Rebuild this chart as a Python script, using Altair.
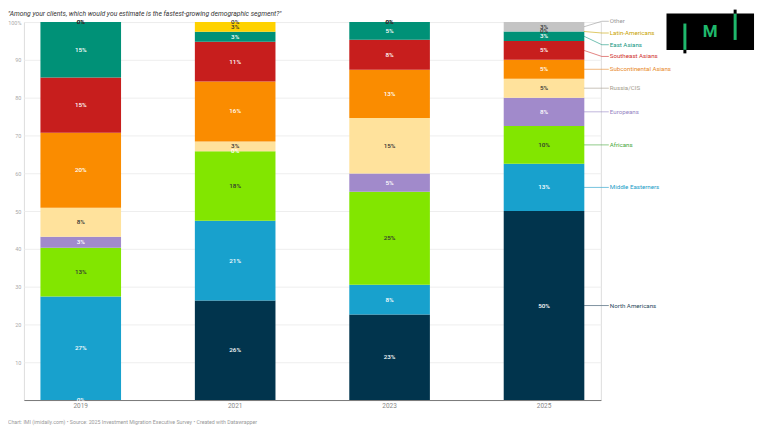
import altair as alt
import pandas as pd

# ---------------- data ----------------
years = ["2019", "2021", "2023", "2025"]
categories = ["North Americans", "Middle Easterners", "Africans", "Europeans", "Russia/CIS",
              "Subcontinental Asians", "Southeast Asians", "East Asians", "Latin-Americans", "Other"]
north_americans = [0, 26.3, 22.6, 50]
middle_easterners = [27.4, 21.1, 7.9, 12.5]
africans = [12.9, 18.4, 24.6, 10]
europeans = [2.9, 0, 4.8, 7.5]
russia_cis = [7.7, 2.6, 14.7, 5]
subcontinental_asians = [19.8, 15.9, 12.8, 5]
southeast_asians = [14.6, 10.5, 7.9, 5]
east_asians = [14.7, 2.6, 4.7, 2.5]
latin_americans = [0, 2.6, 0, 0]
other = [0, 0, 0, 2.5]
series = [north_americans, middle_easterners, africans, europeans, russia_cis,
          subcontinental_asians, southeast_asians, east_asians, latin_americans, other]

y_ticks = [0, 10, 20, 30, 40, 50, 60, 70, 80, 90, 100]
title_text = '"Among your clients, which would you estimate is the fastest-growing demographic segment?"'
footer_text = "Chart: IMI (imidaily.com) \u2022 Source: 2025 Investment Migration Executive Survey \u2022 Created with Datawrapper"

# ---------------- styles ----------------
bar_colors = ["#01344d", "#18a1cd", "#82e600", "#a18acb", "#ffe29c",
              "#fa8c00", "#c71e1d", "#009177", "#ffd200", "#c4c4c4"]
seg_text_colors = ["#ffffff", "#ffffff", "#333333", "#ffffff", "#333333",
                   "#ffffff", "#ffffff", "#ffffff", "#333333", "#333333"]
legend_text_colors = ["#2a4a60", "#1a9cc7", "#45a83a", "#9584c4", "#a39c8c",
                      "#e8892a", "#d0312d", "#14967f", "#c9a400", "#999999"]
FONT = "Roboto"

# ---------------- tables ----------------
rows = []
for yi, yr in enumerate(years):
    for ci, cat in enumerate(categories):
        rows.append({"year": yr, "cat": cat, "order": ci, "value": series[ci][yi]})
df = pd.DataFrame(rows)

# direct labels next to the last bar, de-overlapped
last = [s[-1] for s in series]
mids, cum = [], 0.0
for v in last:
    mids.append(cum + v / 2)
    cum += v
pos = mids[:]
gap, top_limit = 3.1, 100.2
for _ in range(600):
    for i in range(1, len(pos)):
        d = pos[i] - pos[i - 1]
        if d < gap:
            o = (gap - d) / 2
            pos[i] += o
            pos[i - 1] -= o
    pos = [min(p, top_limit) for p in pos]
leg = pd.DataFrame({"cat": categories, "mid": mids, "lab": pos})

W, H = 580, 380
xscale = alt.Scale(domain=years, paddingInner=0.478, paddingOuter=0.107)
yscale = alt.Scale(domain=[0, 100], nice=False)
x_axis = alt.Axis(labelFont=FONT, labelFontSize=6.5, labelColor="#888888",
                  ticks=False, domainColor="#777777", domainWidth=1,
                  labelPadding=3, labelAngle=0, title=None)
y_axis = alt.Axis(values=y_ticks, labelFont=FONT, labelFontSize=5.5, labelColor="#aaaaaa",
                  ticks=False, domain=False, gridColor="#eeeeee", gridWidth=1,
                  labelPadding=3, labelOverlap=False, title=None,
                  labelExpr="datum.value == 0 ? '' : (datum.value == 100 ? '100%' : datum.label)")

base = alt.Chart(df).transform_stack(
    stack="value", groupby=["year"], as_=["y0", "y1"],
    sort=[alt.SortField("order", order="ascending")]
).transform_calculate(
    ymid="(datum.y0 + datum.y1) / 2",
    label="round(datum.value) + '%'"
)

bars = base.mark_bar().encode(
    x=alt.X("year:N", scale=xscale, axis=x_axis),
    y=alt.Y("y0:Q", scale=yscale, axis=y_axis),
    y2="y1:Q",
    color=alt.Color("cat:N", scale=alt.Scale(domain=categories, range=bar_colors), legend=None),
)

seg_labels = base.mark_text(font=FONT, fontSize=6.3, fontWeight=500, baseline="middle").encode(
    x=alt.X("year:N", scale=xscale, axis=x_axis),
    y=alt.Y("ymid:Q", scale=yscale, axis=y_axis),
    text="label:N",
    color=alt.Color("cat:N", scale=alt.Scale(domain=categories, range=seg_text_colors), legend=None),
)

leg_base = alt.Chart(leg)
lead_scale = alt.Scale(domain=categories, range=legend_text_colors)
lead1 = leg_base.mark_rule(strokeWidth=1, opacity=0.6).encode(
    x=alt.value(563), x2=alt.value(581),
    y=alt.Y("mid:Q", scale=yscale, axis=y_axis), y2="lab:Q",
    color=alt.Color("cat:N", scale=lead_scale, legend=None),
)
lead2 = leg_base.mark_rule(strokeWidth=1, opacity=0.6).encode(
    x=alt.value(581), x2=alt.value(588),
    y=alt.Y("lab:Q", scale=yscale, axis=y_axis),
    color=alt.Color("cat:N", scale=lead_scale, legend=None),
)
leg_text = leg_base.mark_text(font=FONT, fontSize=6.2, align="left", baseline="middle").encode(
    x=alt.value(589),
    y=alt.Y("lab:Q", scale=yscale, axis=y_axis),
    text="cat:N",
    color=alt.Color("cat:N", scale=lead_scale, legend=None),
)

title = alt.Chart(pd.DataFrame({"t": [title_text]})).mark_text(
    font=FONT, fontSize=6.8, fontStyle="italic", color="#333333", align="left", baseline="middle"
).encode(x=alt.value(-16), y=alt.value(-8), text="t:N")

footer = alt.Chart(pd.DataFrame({"t": [footer_text]})).mark_text(
    font=FONT, fontSize=5.3, color="#999999", align="left", baseline="middle"
).encode(x=alt.value(-16), y=alt.value(402), text="t:N")

# IMI logo
one = pd.DataFrame({"a": [0]})
logo_box = alt.Chart(one).mark_rect(color="#000000").encode(
    x=alt.value(646), x2=alt.value(734), y=alt.value(-8.5), y2=alt.value(28))
logo_l_green = alt.Chart(one).mark_rule(color="#1fb86c", strokeWidth=3).encode(
    x=alt.value(664.5), y=alt.value(1.5), y2=alt.value(28))
logo_l_black = alt.Chart(one).mark_rule(color="#000000", strokeWidth=3).encode(
    x=alt.value(664.5), y=alt.value(28), y2=alt.value(31.5))
logo_r_green = alt.Chart(one).mark_rule(color="#1fb86c", strokeWidth=3).encode(
    x=alt.value(715), y=alt.value(-8.5), y2=alt.value(18))
logo_r_black = alt.Chart(one).mark_rule(color="#000000", strokeWidth=3).encode(
    x=alt.value(715), y=alt.value(-12.5), y2=alt.value(-8.5))
logo_m = alt.Chart(pd.DataFrame({"t": ["M"]})).mark_text(
    font=FONT, fontSize=17, fontWeight="bold", color="#1fb86c", align="center", baseline="middle"
).encode(x=alt.value(690), y=alt.value(10.5), text="t:N")

chart = alt.layer(
    bars, seg_labels, lead1, lead2, leg_text, title, footer,
    logo_box, logo_l_green, logo_l_black, logo_r_green, logo_r_black, logo_m
).resolve_scale(color="independent").properties(
    width=W, height=H,
    autosize=alt.AutoSizeParams(type="none"),
    padding={"left": 16, "top": 13, "right": 160, "bottom": 28},
).configure_view(strokeWidth=0, stroke="transparent").configure(background="#ffffff")

chart.save("out.html", embed_options={"renderer": "svg", "actions": False})
